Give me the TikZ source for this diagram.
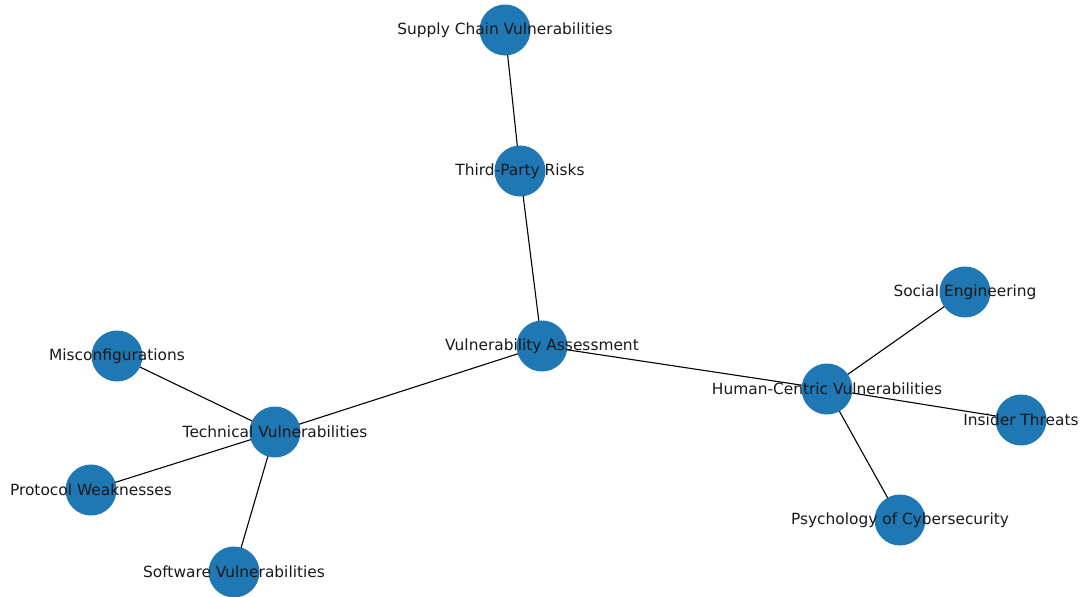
\documentclass[tikz,border=0pt]{standalone}
\usepackage{fontspec}
\setmainfont{DejaVu Sans}
\definecolor{nodeblue}{HTML}{1F77B4}
\begin{document}
\begin{tikzpicture}[x=1pt,y=-1pt,
  vnode/.style={circle,fill=nodeblue,minimum size=51pt,inner sep=0pt},
  vlabel/.style={font=\fontsize{15.4}{18}\selectfont,text=black!90,inner sep=0pt},
  edge/.style={draw=black,line width=1.1pt}]
\useasboundingbox (0,0) rectangle (1080,597);
\coordinate (sc) at (505,30);
\coordinate (tp) at (520,171);
\coordinate (va) at (542,346);
\coordinate (hc) at (827,389);
\coordinate (se) at (965,292);
\coordinate (it) at (1021,420);
\coordinate (ps) at (900,520);
\coordinate (tv) at (275,432);
\coordinate (mc) at (117,356);
\coordinate (pw) at (91,490);
\coordinate (sv) at (234,572);
\draw[edge] (sc) -- (tp);
\draw[edge] (tp) -- (va);
\draw[edge] (va) -- (hc);
\draw[edge] (va) -- (tv);
\draw[edge] (hc) -- (se);
\draw[edge] (hc) -- (it);
\draw[edge] (hc) -- (ps);
\draw[edge] (tv) -- (mc);
\draw[edge] (tv) -- (pw);
\draw[edge] (tv) -- (sv);
\foreach \n in {sc,tp,va,hc,se,it,ps,tv,mc,pw,sv} \node[vnode] (c\n) at (\n) {};
\node[vlabel] (lsc) at (sc) {Supply Chain Vulnerabilities};
\node[vlabel] (ltp) at (tp) {Third-Party Risks};
\node[vlabel] (lva) at (va) {Vulnerability Assessment};
\node[vlabel] (lhc) at (hc) {Human-Centric Vulnerabilities};
\node[vlabel] (lse) at (se) {Social Engineering};
\node[vlabel] (lit) at (it) {Insider Threats};
\node[vlabel] (lps) at (ps) {Psychology of Cybersecurity};
\node[vlabel] (ltv) at (tv) {Technical Vulnerabilities};
\node[vlabel] (lmc) at (mc) {Misconfigurations};
\node[vlabel] (lpw) at (pw) {Protocol Weaknesses};
\node[vlabel] (lsv) at (sv) {Software Vulnerabilities};
\end{tikzpicture}
\end{document}
